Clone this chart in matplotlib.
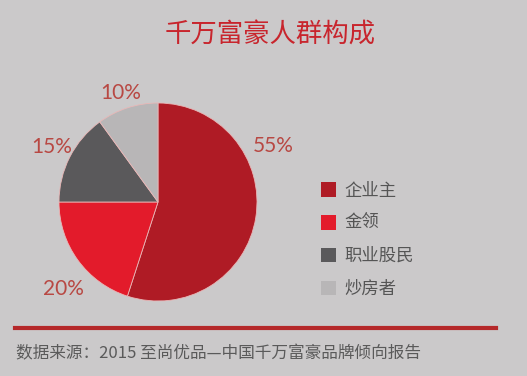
import matplotlib
matplotlib.use("Agg")
import matplotlib.pyplot as plt
from matplotlib.patches import Patch

plt.rcParams['font.family'] = ['Noto Sans CJK SC', 'DejaVu Sans']

title = "千万富豪人群构成"
groups = ["企业主", "金领", "职业股民", "炒房者"]
shares = [55, 20, 15, 10]
colors = ["#af1b25", "#e31b2b", "#5a595b", "#b8b6b7"]
source = "数据来源：2015 至尚优品—中国千万富豪品牌倾向报告"

bg = "#cbc9ca"
W, H = 527, 376

fig = plt.figure(figsize=(W / 100, H / 100), dpi=100, facecolor=bg)

# pie axes: centre ~ (158, 202) px, radius ~ 99 px
ax = fig.add_axes([59 / W, 1 - 301 / H, 198 / W, 198 / H])
ax.set_facecolor(bg)
wedges, texts = ax.pie(shares, colors=colors, startangle=90, counterclock=False,
                       labels=[f"{s}%" for s in shares], labeldistance=1.2,
                       wedgeprops=dict(linewidth=0.6, edgecolor="#e9b7b7"),
                       textprops=dict(fontsize=15, color="#b84843",
                                      family=['Lato', 'DejaVu Sans']))
ax.set_xlim(-1, 1)
ax.set_ylim(-1, 1)
ax.set_aspect('equal')
ax.axis('off')

# move percentage labels to where the original has them
label_pos = [(1.16, 0.57), (-0.96, -0.88), (-1.07, 0.56), (-0.38, 1.10)]
for t, p in zip(texts, label_pos):
    t.set_position(p)
    t.set_ha('center')
    t.set_va('center')

fig.text(270 / W, 1 - 35 / H, title, ha='center', va='center',
         fontsize=19, color="#c8252d")

handles = [Patch(facecolor=c, edgecolor='none') for c in colors]
fig.legend(handles, groups, loc='upper left', bbox_to_anchor=(305 / W, 1 - 166 / H),
           frameon=False, fontsize=12.5, handlelength=0.9, handleheight=0.9,
           handletextpad=0.45, labelspacing=0.85, labelcolor="#555555")

fig.add_artist(plt.Line2D([15 / W, 496 / W], [1 - 328 / H, 1 - 328 / H],
                          color="#b5282a", linewidth=3, transform=fig.transFigure))
fig.text(16 / W, 1 - 354 / H, source, ha='left', va='center',
         fontsize=12, color="#5a5a5a")

fig.savefig("out.png", dpi=100, facecolor=bg)
